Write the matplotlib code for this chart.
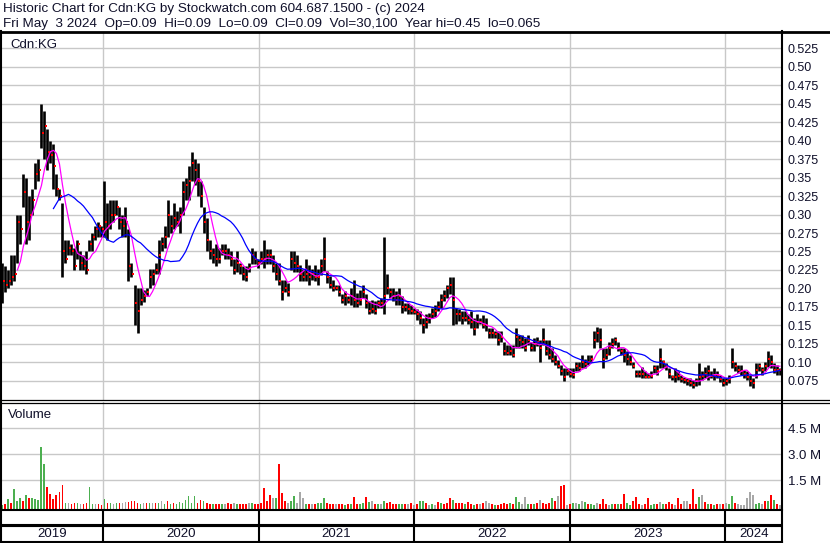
import matplotlib
matplotlib.use('Agg')
import matplotlib.pyplot as plt
import pandas as pd

plt.rcParams['font.family'] = ['Liberation Sans', 'DejaVu Sans']

# weekly high / low / close (May 2019 - May 2024)
highs = [
    0.235, 0.23, 0.225, 0.245, 0.245, 0.30, 0.30, 0.355, 0.35, 0.325,
    0.335, 0.37, 0.375, 0.45, 0.44, 0.415, 0.40, 0.395, 0.355, 0.335,
    0.315, 0.265, 0.265, 0.26, 0.255, 0.265, 0.25, 0.245, 0.25, 0.265,
    0.275, 0.285, 0.29, 0.285, 0.345, 0.315, 0.32, 0.32, 0.32, 0.31,
    0.30, 0.31, 0.28, 0.235, 0.205, 0.20, 0.20, 0.198, 0.20, 0.227,
    0.227, 0.235, 0.265, 0.27, 0.285, 0.32, 0.30, 0.315, 0.305, 0.31,
    0.345, 0.35, 0.365, 0.385, 0.375, 0.37, 0.345, 0.31, 0.295, 0.265,
    0.255, 0.26, 0.255, 0.26, 0.26, 0.255, 0.25, 0.24, 0.25, 0.235,
    0.23, 0.23, 0.235, 0.255, 0.25, 0.24, 0.25, 0.265, 0.253, 0.253,
    0.245, 0.235, 0.235, 0.212, 0.212, 0.208, 0.25, 0.25, 0.245, 0.232,
    0.227, 0.24, 0.232, 0.227, 0.232, 0.227, 0.24, 0.27, 0.223, 0.217,
    0.212, 0.205, 0.205, 0.192, 0.196, 0.19, 0.20, 0.212, 0.194, 0.198,
    0.205, 0.192, 0.183, 0.185, 0.183, 0.185, 0.187, 0.27, 0.22, 0.20,
    0.20, 0.196, 0.20, 0.19, 0.18, 0.18, 0.178, 0.174, 0.172, 0.17,
    0.16, 0.165, 0.167, 0.174, 0.178, 0.183, 0.192, 0.198, 0.205, 0.215,
    0.215, 0.174, 0.172, 0.17, 0.17, 0.165, 0.17, 0.16, 0.165, 0.16,
    0.164, 0.16, 0.146, 0.146, 0.142, 0.142, 0.142, 0.128, 0.124, 0.124,
    0.124, 0.146, 0.137, 0.137, 0.133, 0.137, 0.128, 0.133, 0.135, 0.13,
    0.146, 0.13, 0.13, 0.12, 0.11, 0.103, 0.097, 0.092, 0.092, 0.092,
    0.092, 0.10, 0.10, 0.11, 0.105, 0.11, 0.11, 0.142, 0.148, 0.146,
    0.12, 0.12, 0.128, 0.133, 0.135, 0.128, 0.12, 0.12, 0.115, 0.11,
    0.101, 0.09, 0.09, 0.094, 0.088, 0.086, 0.088, 0.097, 0.097, 0.12,
    0.103, 0.099, 0.092, 0.083, 0.092, 0.088, 0.083, 0.081, 0.079, 0.079,
    0.076, 0.079, 0.099, 0.088, 0.094, 0.097, 0.088, 0.092, 0.088, 0.083,
    0.079, 0.079, 0.083, 0.12, 0.101, 0.097, 0.097, 0.09, 0.088, 0.083,
    0.079, 0.099, 0.099, 0.094, 0.101, 0.115, 0.11, 0.099, 0.097, 0.092,
]
lows = [
    0.18, 0.195, 0.20, 0.205, 0.21, 0.235, 0.26, 0.31, 0.26, 0.265,
    0.30, 0.335, 0.345, 0.39, 0.375, 0.36, 0.37, 0.335, 0.325, 0.32,
    0.215, 0.235, 0.245, 0.245, 0.225, 0.24, 0.225, 0.225, 0.22, 0.25,
    0.25, 0.265, 0.27, 0.27, 0.27, 0.265, 0.28, 0.29, 0.30, 0.28,
    0.27, 0.27, 0.21, 0.215, 0.15, 0.14, 0.178, 0.182, 0.19, 0.20,
    0.205, 0.22, 0.22, 0.25, 0.255, 0.27, 0.275, 0.28, 0.285, 0.275,
    0.30, 0.32, 0.32, 0.345, 0.34, 0.325, 0.31, 0.275, 0.25, 0.24,
    0.235, 0.23, 0.235, 0.245, 0.24, 0.24, 0.23, 0.22, 0.222, 0.22,
    0.212, 0.21, 0.222, 0.233, 0.233, 0.228, 0.233, 0.228, 0.233, 0.233,
    0.222, 0.212, 0.205, 0.185, 0.195, 0.19, 0.225, 0.222, 0.222, 0.21,
    0.21, 0.21, 0.205, 0.212, 0.21, 0.205, 0.218, 0.223, 0.208, 0.20,
    0.197, 0.198, 0.19, 0.18, 0.178, 0.18, 0.178, 0.175, 0.175, 0.178,
    0.187, 0.174, 0.165, 0.167, 0.165, 0.174, 0.174, 0.165, 0.192, 0.187,
    0.183, 0.178, 0.178, 0.167, 0.17, 0.165, 0.165, 0.165, 0.158, 0.152,
    0.14, 0.147, 0.153, 0.16, 0.162, 0.169, 0.174, 0.183, 0.187, 0.192,
    0.15, 0.152, 0.156, 0.152, 0.156, 0.152, 0.147, 0.137, 0.147, 0.152,
    0.146, 0.142, 0.133, 0.133, 0.133, 0.124, 0.128, 0.11, 0.11, 0.11,
    0.108, 0.12, 0.12, 0.12, 0.115, 0.124, 0.115, 0.115, 0.122, 0.10,
    0.124, 0.11, 0.105, 0.101, 0.097, 0.092, 0.083, 0.075, 0.083, 0.081,
    0.079, 0.088, 0.088, 0.092, 0.092, 0.097, 0.101, 0.12, 0.128, 0.12,
    0.092, 0.105, 0.11, 0.12, 0.124, 0.115, 0.11, 0.101, 0.097, 0.097,
    0.092, 0.081, 0.081, 0.079, 0.079, 0.079, 0.079, 0.086, 0.083, 0.092,
    0.092, 0.09, 0.079, 0.076, 0.074, 0.076, 0.074, 0.072, 0.07, 0.068,
    0.065, 0.068, 0.07, 0.076, 0.079, 0.076, 0.079, 0.076, 0.079, 0.074,
    0.068, 0.07, 0.072, 0.092, 0.088, 0.086, 0.083, 0.079, 0.076, 0.068,
    0.065, 0.079, 0.088, 0.083, 0.088, 0.094, 0.092, 0.086, 0.083, 0.083,
]
closes = [
    0.21, 0.205, 0.21, 0.215, 0.22, 0.29, 0.28, 0.33, 0.29, 0.30,
    0.32, 0.355, 0.36, 0.41, 0.42, 0.385, 0.38, 0.365, 0.335, 0.325,
    0.25, 0.24, 0.255, 0.25, 0.23, 0.26, 0.235, 0.23, 0.225, 0.26,
    0.27, 0.28, 0.285, 0.28, 0.29, 0.285, 0.30, 0.30, 0.31, 0.29,
    0.285, 0.29, 0.23, 0.22, 0.18, 0.17, 0.185, 0.19, 0.195, 0.215,
    0.22, 0.225, 0.245, 0.26, 0.27, 0.30, 0.285, 0.295, 0.29, 0.30,
    0.33, 0.34, 0.345, 0.37, 0.36, 0.345, 0.325, 0.29, 0.265, 0.25,
    0.245, 0.24, 0.24, 0.25, 0.25, 0.245, 0.24, 0.225, 0.235, 0.23,
    0.22, 0.215, 0.228, 0.245, 0.24, 0.235, 0.24, 0.24, 0.245, 0.245,
    0.23, 0.22, 0.21, 0.195, 0.20, 0.195, 0.24, 0.235, 0.23, 0.22,
    0.215, 0.22, 0.215, 0.22, 0.215, 0.215, 0.23, 0.24, 0.215, 0.205,
    0.20, 0.20, 0.195, 0.185, 0.19, 0.185, 0.19, 0.185, 0.18, 0.185,
    0.195, 0.18, 0.17, 0.172, 0.17, 0.18, 0.18, 0.19, 0.20, 0.195,
    0.19, 0.185, 0.19, 0.175, 0.175, 0.172, 0.17, 0.168, 0.165, 0.16,
    0.15, 0.155, 0.16, 0.165, 0.17, 0.175, 0.185, 0.19, 0.20, 0.205,
    0.185, 0.165, 0.165, 0.16, 0.16, 0.158, 0.155, 0.145, 0.155, 0.155,
    0.15, 0.15, 0.14, 0.14, 0.138, 0.13, 0.135, 0.115, 0.113, 0.115,
    0.11, 0.135, 0.13, 0.128, 0.12, 0.13, 0.12, 0.125, 0.128, 0.12,
    0.13, 0.115, 0.11, 0.105, 0.10, 0.095, 0.088, 0.08, 0.088, 0.085,
    0.083, 0.095, 0.092, 0.10, 0.098, 0.10, 0.105, 0.13, 0.14, 0.13,
    0.105, 0.11, 0.12, 0.125, 0.13, 0.12, 0.115, 0.11, 0.105, 0.10,
    0.095, 0.085, 0.085, 0.085, 0.081, 0.08, 0.082, 0.092, 0.088, 0.105,
    0.10, 0.095, 0.085, 0.08, 0.08, 0.082, 0.078, 0.077, 0.075, 0.072,
    0.07, 0.075, 0.08, 0.082, 0.085, 0.088, 0.082, 0.083, 0.083, 0.078,
    0.072, 0.075, 0.078, 0.10, 0.095, 0.09, 0.088, 0.085, 0.08, 0.075,
    0.072, 0.09, 0.095, 0.09, 0.095, 0.105, 0.10, 0.09, 0.09, 0.09,
]
# volume in millions, and bar colour code (g = up, r = down, n = unchanged)
volumes = [
    0.08, 0.1, 0.42, 0.15, 1.0, 0.3, 0.46, 0.27, 0.65, 0.46,
    0.46, 0.4, 0.35, 3.4, 2.4, 1.1, 0.7, 0.42, 0.65, 0.8,
    1.2, 0.2, 0.15, 0.12, 0.2, 0.15, 0.12, 0.1, 0.15, 1.1,
    0.12, 0.1, 0.1, 0.08, 0.4, 0.17, 0.15, 0.12, 0.2, 0.17,
    0.2, 0.23, 0.25, 0.3, 0.27, 0.2, 0.12, 0.17, 0.17, 0.2,
    0.15, 0.17, 0.15, 0.27, 0.1, 0.3, 0.12, 0.15, 0.1, 0.23,
    0.2, 0.37, 0.56, 0.2, 0.56, 0.15, 0.35, 0.27, 0.15, 0.12,
    0.1, 0.12, 0.1, 0.12, 0.1, 0.17, 0.12, 0.17, 0.1, 0.12,
    0.1, 0.12, 0.17, 0.15, 0.1, 0.12, 0.17, 1.06, 0.27, 0.65,
    0.46, 0.46, 2.45, 0.75, 0.27, 0.17, 0.3, 0.56, 0.2, 0.8,
    0.46, 0.12, 0.1, 0.12, 0.1, 0.15, 0.2, 0.46, 0.17, 0.12,
    0.1, 0.1, 0.12, 0.1, 0.08, 0.1, 0.12, 0.5, 0.12, 0.1,
    0.15, 0.5, 0.23, 0.3, 0.1, 0.12, 0.1, 0.3, 0.2, 0.23,
    0.1, 0.12, 0.1, 0.12, 0.1, 0.12, 0.17, 0.08, 0.1, 0.3,
    0.27, 0.15, 0.06, 0.1, 0.08, 0.21, 0.15, 0.12, 0.17, 0.44,
    0.33, 0.17, 0.17, 0.17, 0.1, 0.21, 0.1, 0.08, 0.1, 0.12,
    0.15, 0.27, 0.17, 0.1, 0.08, 0.08, 0.12, 0.17, 0.1, 0.17,
    0.1, 0.5, 0.21, 0.12, 0.5, 0.12, 0.1, 0.12, 0.15, 0.37,
    0.17, 0.12, 0.15, 0.46, 0.27, 0.56, 1.13, 1.19, 0.08, 0.1,
    0.17, 0.17, 0.12, 0.3, 0.21, 0.1, 0.12, 0.08, 0.15, 0.12,
    0.42, 0.1, 0.08, 0.12, 0.1, 0.12, 0.1, 0.71, 0.15, 0.08,
    0.27, 0.54, 0.1, 0.08, 0.1, 0.46, 0.08, 0.12, 0.1, 0.21,
    0.12, 0.1, 0.21, 0.1, 0.08, 0.46, 0.1, 0.27, 0.27, 0.12,
    1.0, 0.1, 0.5, 0.62, 0.21, 0.12, 0.1, 0.08, 0.1, 0.12,
    0.1, 0.17, 0.1, 0.56, 0.15, 0.1, 0.08, 0.08, 0.46, 0.79,
    0.65, 0.12, 0.17, 0.12, 0.27, 0.27, 0.62, 0.37, 0.1, 0.08,
]
vol_dir = (
    "grgrgggrgr" "gggggrrrrr" "rgnrrgnrrg" "gnrrgrgngr" "nnrrrrgnrg"
    "nrgngrgrgg" "gggggrrgrr" "grrgnrrngr" "rrngrrrrrr" "ngrrrnggnn"
    "ngrnrgggrr" "rnrrgrgrrg" "grgnrgngrr" "rrggrnrnrg" "grngnrgrrr"
    "grrrgrrgrn" "rnnrgrrrrg" "rggnngrgrn" "rrrgrnrrnr" "gngngrggnr"
    "rrngrgrrgg" "rrrnrrggrn" "grrrnrrnnr" "rrgnrgrgrn" "rnggrnnnnn"
    "nggnrgrgrn"
)

price_ticks = [0.075, 0.10, 0.125, 0.15, 0.175, 0.20, 0.225, 0.25, 0.275, 0.30,
               0.325, 0.35, 0.375, 0.40, 0.425, 0.45, 0.475, 0.50, 0.525]
price_labels = ['0.075', '0.10', '0.125', '0.15', '0.175', '0.20', '0.225', '0.25',
                '0.275', '0.30', '0.325', '0.35', '0.375', '0.40', '0.425', '0.45',
                '0.475', '0.50', '0.525']
vol_ticks = [1.5, 3.0, 4.5]
vol_labels = ['1.5 M', '3.0 M', '4.5 M']
years = ['2019', '2020', '2021', '2022', '2023', '2024']

header1 = "Historic Chart for Cdn:KG by Stockwatch.com 604.687.1500 - (c) 2024"
header2 = ("Fri May  3 2024  Op=0.09  Hi=0.09  Lo=0.09  Cl=0.09  Vol=30,100  "
           "Year hi=0.45  lo=0.065")

dates = pd.date_range('2019-05-10', '2024-05-08', periods=len(closes))
df = pd.DataFrame({'high': highs, 'low': lows, 'close': closes,
                   'vol': volumes, 'dir': list(vol_dir)}, index=dates)
df['ma_short'] = df['close'].rolling(6).mean()
df['ma_long'] = df['close'].rolling(18).mean()

x0 = pd.Timestamp('2019-05-09')
x1 = pd.Timestamp('2024-05-13')
year_starts = [pd.Timestamp(y + '-01-01') for y in years[1:]]

W, H = 830, 543
fig = plt.figure(figsize=(W / 100, H / 100), dpi=100)


def box(left, top, right, bottom):
    return [left / W, 1 - bottom / H, (right - left) / W, (bottom - top) / H]


grid_col = '#c8c8c8'
lab_col = '#10102a'

# price panel
ax = fig.add_axes(box(2, 33, 782, 400))
ax.vlines(df.index, df['low'], df['high'], color='black', lw=1.9, zorder=3)
ax.plot(df.index + pd.Timedelta(days=3), df['close'], 's', ms=1.5, mew=0,
        color='red', zorder=4)
ax.plot(df.index, df['ma_short'], color='#ff00ff', lw=0.9, zorder=5)
ax.plot(df.index, df['ma_long'], color='#0000ff', lw=0.9, zorder=5)
ax.set_xlim(x0, x1)
ax.set_ylim(0.0493, 0.5453)
ax.set_yticks(price_ticks)
ax.set_yticklabels(price_labels)
ax.set_xticks(year_starts)
ax.set_xticklabels([])
ax.yaxis.tick_right()
ax.tick_params(axis='both', length=0, labelsize=9, labelcolor=lab_col, pad=4)
ax.grid(True, color=grid_col, lw=1.0)
ax.set_axisbelow(True)
for s in ax.spines.values():
    s.set_visible(False)
ax.text(0.011, 0.985, 'Cdn:KG', transform=ax.transAxes, fontsize=9.5,
        color=lab_col, va='top', ha='left')

# volume panel
axv = fig.add_axes(box(2, 402, 782, 509))
vol_colors = {'g': '#4caf50', 'r': '#ff0000', 'n': '#a8a8a8'}
vlo = -0.17
axv.bar(df.index, df['vol'] - vlo, bottom=vlo, width=4.5,
        color=[vol_colors[d] for d in df['dir']], zorder=3)
axv.set_xlim(x0, x1)
axv.set_ylim(vlo, 6.0)
axv.set_yticks(vol_ticks)
axv.set_yticklabels(vol_labels)
axv.set_xticks(year_starts)
axv.set_xticklabels([])
axv.yaxis.tick_right()
axv.tick_params(axis='both', length=0, labelsize=9.5, labelcolor=lab_col, pad=4)
axv.grid(True, color=grid_col, lw=1.0)
axv.set_axisbelow(True)
for s in axv.spines.values():
    s.set_visible(False)
axv.text(0.008, 0.93, 'Volume', transform=axv.transAxes, fontsize=9.5,
         color=lab_col, va='top', ha='left')

# year band
axy = fig.add_axes(box(2, 509, 782, 542))
axy.set_xlim(x0, x1)
axy.set_ylim(0, 1)
axy.axis('off')
for ys in year_starts:
    axy.axvline(ys, color='black', lw=1.5)
axy.axhline(0.53, color='black', lw=1.5)
axy.axhline(0.48, color='black', lw=0.8)
bounds = [x0] + year_starts + [x1]
for i, y in enumerate(years):
    mid = bounds[i] + (bounds[i + 1] - bounds[i]) / 2
    axy.text(mid, 0.24, y, ha='center', va='center', fontsize=9.5, color=lab_col)

# frame lines in pixel coordinates
fr = fig.add_axes([0, 0, 1, 1], zorder=10)
fr.set_xlim(0, W)
fr.set_ylim(H, 0)
fr.axis('off')
fr.patch.set_alpha(0)
fr.plot([0, W], [31.5, 31.5], color='black', lw=2)
fr.plot([0, W], [400, 400], color='black', lw=0.9)
fr.plot([0, W], [402.5, 402.5], color='black', lw=0.9)
fr.plot([1, 1], [31, H], color='black', lw=1.5)
fr.plot([782, 782], [31, H], color='black', lw=1.5)
fr.plot([0, 782], [509.5, 509.5], color='black', lw=1.5)
fr.plot([0, 782], [541.5, 541.5], color='black', lw=1.5)

fig.text(3 / W, 1 - 12 / H, header1, fontsize=9.7, color=lab_col, va='baseline')
fig.text(3 / W, 1 - 27.5 / H, header2, fontsize=9.7, color=lab_col, va='baseline')

fig.savefig('out.png', dpi=100)
